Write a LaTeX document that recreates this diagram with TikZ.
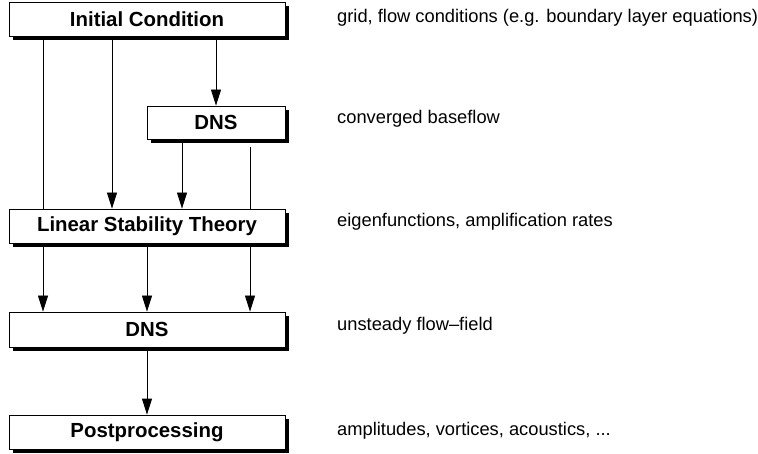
\documentclass[tikz,border=0pt]{standalone}
\usepackage{fontspec}
\setmainfont{Liberation Sans}
\usetikzlibrary{arrows.meta,shadows,positioning}
\begin{document}
\begin{tikzpicture}[x=1pt,y=-1pt,
  stagebox/.style={draw=black,line width=0.8pt,fill=white,rectangle,inner sep=0pt,
    font=\fontsize{20.4}{22}\selectfont\bfseries,
    drop shadow={shadow xshift=4pt,shadow yshift=-4pt,fill=black,opacity=1}},
  note/.style={anchor=mid west,inner sep=0pt,font=\fontsize{18.3}{20}\selectfont},
  conn/.style={draw=black,line width=0.8pt},
  arr/.style={conn,-{Triangle[length=16pt,width=10pt]}}]
\useasboundingbox (0,0) rectangle (758,454);
\node[stagebox,minimum width=276pt,minimum height=34pt] (ic) at (147,19) {Initial Condition};
\node[stagebox,minimum width=138pt,minimum height=33pt] (dns1) at (216,122.5) {DNS};
\node[stagebox,minimum width=276pt,minimum height=34pt] (lst) at (147,226) {Linear Stability Theory};
\node[stagebox,minimum width=276pt,minimum height=35pt] (dns2) at (147,329.5) {DNS};
\node[stagebox,minimum width=276pt,minimum height=34pt] (post) at (147,432) {Postprocessing};
\node[note] (n1) at (337,20) {grid, flow conditions (e.g. boundary layer equations)};
\node[note] (n2) at (337,121) {converged baseflow};
\node[note] (n3) at (337,224) {eigenfunctions, amplification rates};
\node[note] (n4) at (337,328) {unsteady flow\textendash field};
\node[note] (n5) at (337,433) {amplitudes, vortices, acoustics, ...};
% from initial condition
\draw[conn] ([yshift=-4pt]ic.south -| 43,0) -- (lst.north -| 43,0);
\draw[arr] ([yshift=-4pt]ic.south -| 112,0) -- (lst.north -| 112,0);
\draw[arr] ([yshift=-4pt]ic.south -| dns1.north) -- (dns1.north);
% from DNS (baseflow)
\draw[arr] ([yshift=-4pt]dns1.south -| 182,0) -- (lst.north -| 182,0);
\draw[conn] ([yshift=-8pt]dns1.south -| 250,0) -- (lst.north -| 250,0);
% from LST
\draw[arr] ([yshift=-4pt]lst.south -| 43,0) -- (dns2.north -| 43,0);
\draw[arr] ([yshift=-4pt]lst.south -| 147,0) -- (dns2.north -| 147,0);
\draw[arr] ([yshift=-4pt]lst.south -| 250,0) -- (dns2.north -| 250,0);
% from DNS to postprocessing
\draw[arr] ([yshift=-4pt]dns2.south) -- (post.north);
\end{tikzpicture}
\end{document}
